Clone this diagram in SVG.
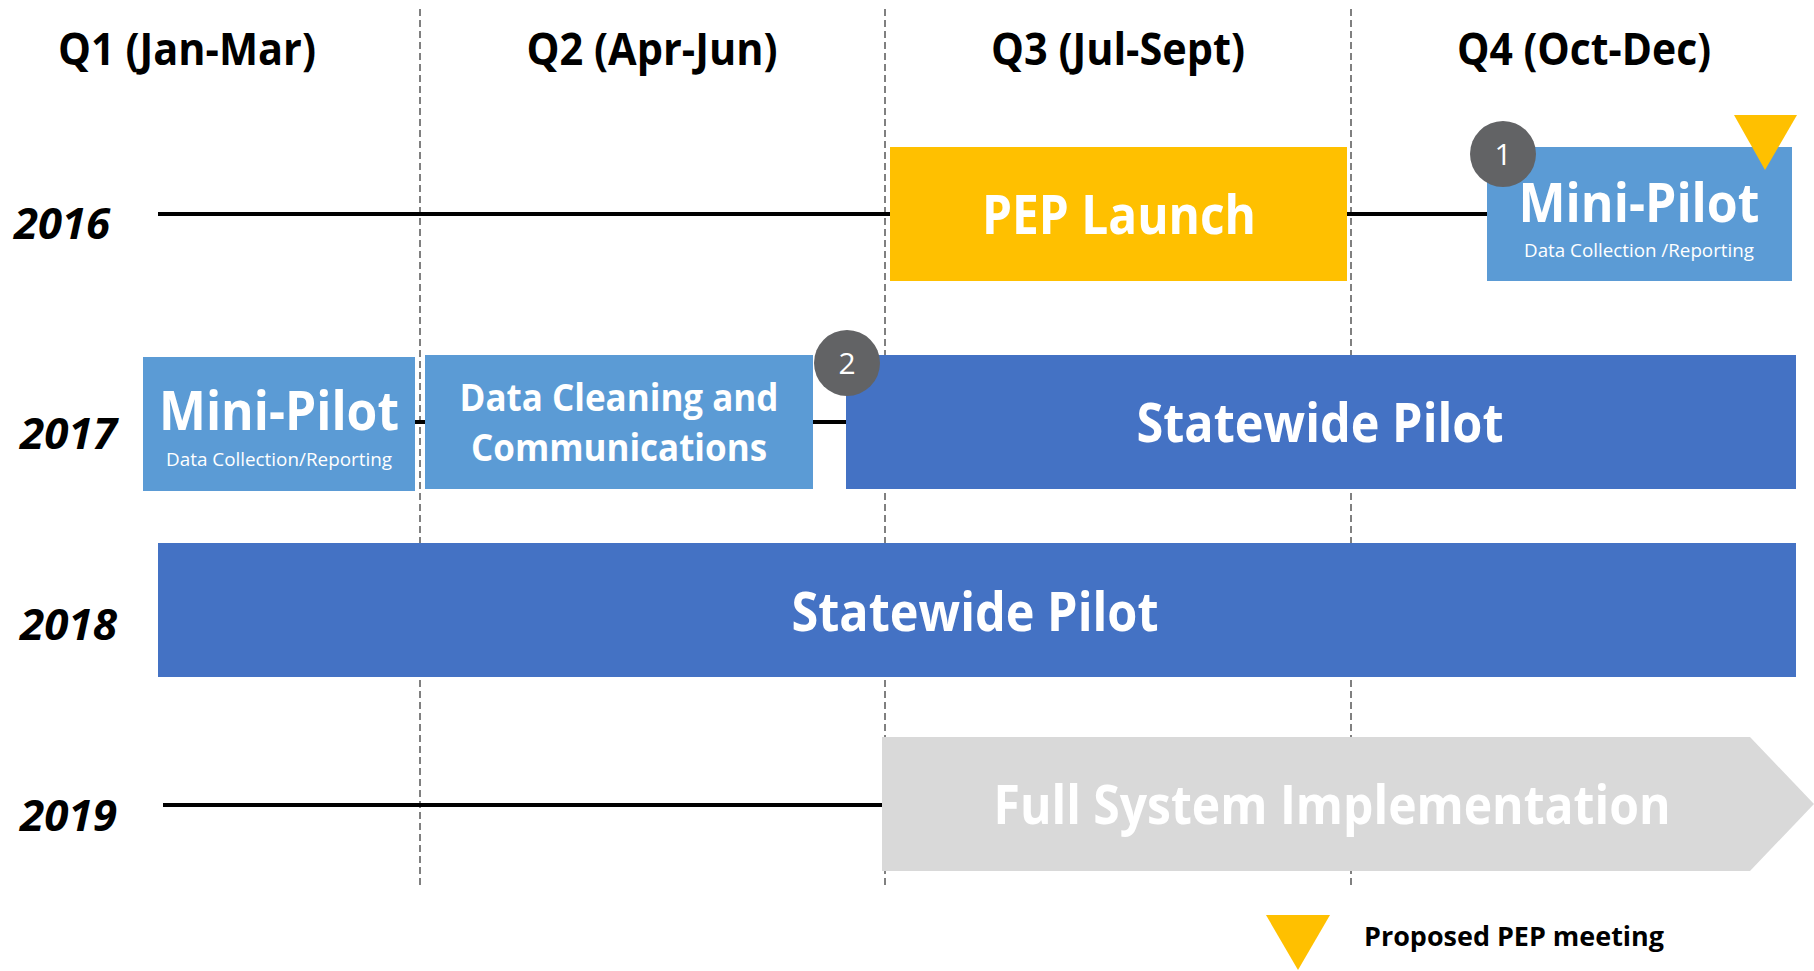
<svg xmlns="http://www.w3.org/2000/svg" width="1814" height="971" viewBox="0 0 1814 971">
<style>
  text { font-family: "Open Sans", "Noto Sans", "Liberation Sans", sans-serif; }
  .hdr { font-size: 44px; font-weight: bold; fill: #000; text-anchor: middle; }
  .yr { font-size: 43px; font-weight: bold; font-style: italic; fill: #000; }
  .big { font-size: 53px; font-weight: bold; fill: #fff; text-anchor: middle; }
  .mid { font-size: 38px; font-weight: bold; fill: #fff; text-anchor: middle; }
  .sub { font-size: 18px; fill: #fff; text-anchor: middle; }
  .num { font-size: 30px; fill: #fff; text-anchor: middle; }
  .leg { font-size: 26px; font-weight: bold; fill: #000; }
  .grid { stroke: #808080; stroke-width: 2; stroke-dasharray: 7 4; fill: none; }
  .row { stroke: #000; stroke-width: 4; fill: none; }
  .gold { fill: #FFC000; }
  .light { fill: #5B9BD5; }
  .dark { fill: #4472C4; }
  .badge { fill: #626365; }
</style>
<rect width="1814" height="971" fill="#fff"/>
<g id="grid">
  <line class="grid" x1="420" y1="9" x2="420" y2="888"/>
  <line class="grid" x1="885" y1="9" x2="885" y2="888"/>
  <line class="grid" x1="1351" y1="9" x2="1351" y2="888"/>
</g>
<g id="headers">
  <text class="hdr" x="187" y="65" textLength="258" lengthAdjust="spacingAndGlyphs">Q1 (Jan-Mar)</text>
  <text class="hdr" x="652" y="65" textLength="251" lengthAdjust="spacingAndGlyphs">Q2 (Apr-Jun)</text>
  <text class="hdr" x="1118" y="65" textLength="254" lengthAdjust="spacingAndGlyphs">Q3 (Jul-Sept)</text>
  <text class="hdr" x="1584" y="65" textLength="254" lengthAdjust="spacingAndGlyphs">Q4 (Oct-Dec)</text>
</g>
<g id="years">
  <text class="yr" x="14" y="239" textLength="96" lengthAdjust="spacingAndGlyphs">2016</text>
  <text class="yr" x="20" y="449" textLength="97" lengthAdjust="spacingAndGlyphs">2017</text>
  <text class="yr" x="20" y="640" textLength="97" lengthAdjust="spacingAndGlyphs">2018</text>
  <text class="yr" x="20" y="831" textLength="97" lengthAdjust="spacingAndGlyphs">2019</text>
</g>
<g id="connectors">
  <line class="row" x1="158" y1="214" x2="1490" y2="214"/>
  <line class="row" x1="414" y1="422" x2="848" y2="422"/>
  <line class="row" x1="163" y1="805" x2="884" y2="805"/>
</g>
<g id="pep-launch">
  <rect class="gold" x="890" y="147" width="457" height="134"/>
  <text class="big" x="1119" y="234" textLength="274" lengthAdjust="spacingAndGlyphs">PEP Launch</text>
</g>
<g id="mini-pilot-2016">
  <rect class="light" x="1487" y="147" width="305" height="134"/>
  <text class="big" x="1639" y="222" textLength="241" lengthAdjust="spacingAndGlyphs">Mini-Pilot</text>
  <text class="sub" x="1639" y="257" textLength="230" lengthAdjust="spacingAndGlyphs">Data Collection /Reporting</text>
</g>
<g id="badge-1">
  <circle class="badge" cx="1503" cy="154" r="33"/>
  <text class="num" x="1503" y="165">1</text>
</g>
<g id="meeting-marker">
  <polygon class="gold" points="1734,115 1797,115 1765,170"/>
</g>
<g id="mini-pilot-2017">
  <rect class="light" x="143" y="357" width="272" height="134"/>
  <text class="big" x="279" y="430" textLength="240" lengthAdjust="spacingAndGlyphs">Mini-Pilot</text>
  <text class="sub" x="279" y="466" textLength="226" lengthAdjust="spacingAndGlyphs">Data Collection/Reporting</text>
</g>
<g id="data-cleaning">
  <rect class="light" x="425" y="355" width="388" height="134"/>
  <text class="mid" x="619" y="411" textLength="319" lengthAdjust="spacingAndGlyphs">Data Cleaning and</text>
  <text class="mid" x="619" y="461" textLength="296" lengthAdjust="spacingAndGlyphs">Communications</text>
</g>
<g id="statewide-2017">
  <rect class="dark" x="846" y="355" width="950" height="134"/>
  <text class="big" x="1320" y="442" textLength="367" lengthAdjust="spacingAndGlyphs">Statewide Pilot</text>
</g>
<g id="badge-2">
  <circle class="badge" cx="847" cy="363" r="33"/>
  <text class="num" x="847" y="374">2</text>
</g>
<g id="statewide-2018">
  <rect class="dark" x="158" y="543" width="1638" height="134"/>
  <text class="big" x="975" y="631" textLength="367" lengthAdjust="spacingAndGlyphs">Statewide Pilot</text>
</g>
<g id="full-system">
  <polygon fill="#D9D9D9" points="882,737 1750,737 1814,804 1750,871 882,871"/>
  <text class="big" x="1332" y="824" textLength="677" lengthAdjust="spacingAndGlyphs">Full System Implementation</text>
</g>
<g id="legend">
  <polygon class="gold" points="1266,915 1330,915 1298,970"/>
  <text class="leg" x="1364" y="946" textLength="300" lengthAdjust="spacingAndGlyphs">Proposed PEP meeting</text>
</g>
</svg>
